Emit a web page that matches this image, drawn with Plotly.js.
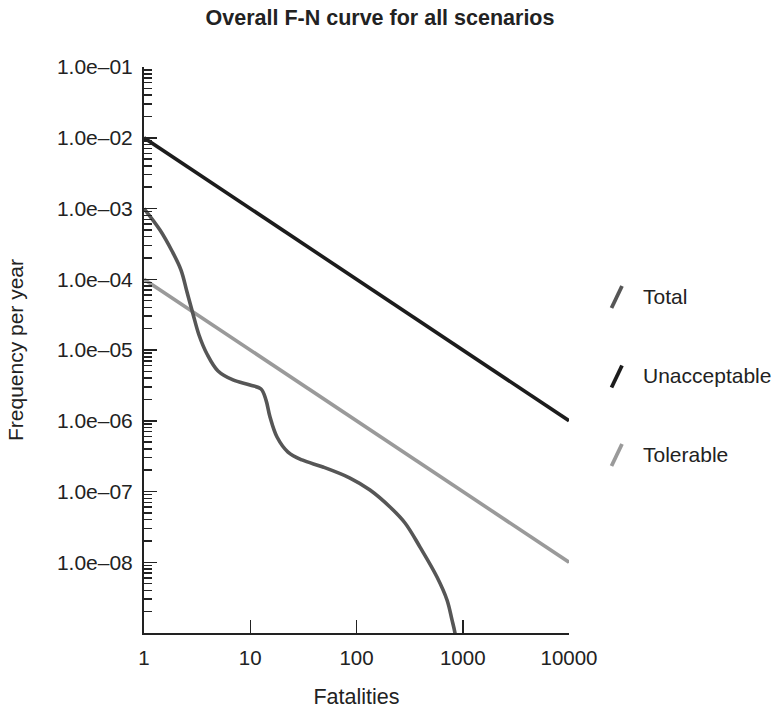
<!DOCTYPE html>
<html>
<head>
<meta charset="utf-8">
<script src="https://cdn.plot.ly/plotly-3.0.1.min.js"></script>
<style>
  html, body { margin: 0; padding: 0; background: #ffffff; }
  #chart { width: 774px; height: 709px; }
</style>
</head>
<body>
<div id="chart"></div>
<script>
// F-N curve: cumulative frequency of N or more fatalities per year
const seriesNames = ["Total", "Unacceptable", "Tolerable"];

// Total curve for all scenarios
const totalN = [1, 1.414, 1.834, 2.23, 2.54, 2.892, 3.293, 3.916, 4.972, 6.88, 9.95, 12.63,
                14.07, 15.35, 17.86, 22.66, 30.69, 48.39, 86.86, 134.0, 206.7, 286.1, 396.0,
                572.3, 711.0, 792.1, 845.4, 902];
const totalF = [1e-3, 4.97e-4, 2.51e-4, 1.35e-4, 6.6e-5, 3.23e-5, 1.63e-5, 8.78e-6, 5.05e-6,
                3.77e-6, 3.2e-6, 2.81e-6, 1.96e-6, 1.13e-6, 5.89e-7, 3.61e-7, 2.79e-7, 2.22e-7,
                1.55e-7, 1.05e-7, 6.04e-8, 3.59e-8, 1.64e-8, 6.19e-9, 2.93e-9, 1.53e-9,
                1.0e-9, 5.05e-10];

// Criterion lines
const criterionN = [1, 10000];
const unacceptableF = [1e-2, 1e-6];
const tolerableF = [1e-4, 1e-8];

// Axis ticks
const xTickVals = [1, 10, 100, 1000, 10000];
const xTickText = ["1", "10", "100", "1000", "10000"];
const yTickVals = [1e-8, 1e-7, 1e-6, 1e-5, 1e-4, 1e-3, 1e-2, 1e-1];
const yTickText = ["1.0e\u201308", "1.0e\u201307", "1.0e\u201306", "1.0e\u201305",
                   "1.0e\u201304", "1.0e\u201303", "1.0e\u201302", "1.0e\u201301"];

const colors = { Total: "#565656", Unacceptable: "#1c1c1c", Tolerable: "#9a9a9a" };
const FONT = "Liberation Sans, Arial, Helvetica, sans-serif";
const INK = "#222222";

const traces = [
  { x: criterionN, y: tolerableF, name: "Tolerable", mode: "lines",
    line: { color: colors.Tolerable, width: 3.6 }, showlegend: false, hoverinfo: "x+y+name" },
  { x: totalN, y: totalF, name: "Total", mode: "lines",
    line: { color: colors.Total, width: 3.6, shape: "spline", smoothing: 1 },
    showlegend: false, hoverinfo: "x+y+name" },
  { x: criterionN, y: unacceptableF, name: "Unacceptable", mode: "lines",
    line: { color: colors.Unacceptable, width: 3.6 }, showlegend: false, hoverinfo: "x+y+name" }
];

// Key on the right: slanted stroke + label per series (paper coordinates)
const plotL = 144, plotR = 569, plotT = 67, plotB = 633;
const px = v => (v - plotL) / (plotR - plotL);
const py = v => (plotB - v) / (plotB - plotT);
const keyRows = [297, 376.5, 455];
const shapes = [];
const annotations = [];
seriesNames.forEach((nm, i) => {
  const yc = keyRows[i];
  shapes.push({
    type: "line", xref: "paper", yref: "paper",
    x0: px(611.5), y0: py(yc + 11), x1: px(622), y1: py(yc - 11),
    line: { color: colors[nm], width: 3.8 }
  });
  annotations.push({
    xref: "paper", yref: "paper", x: px(641), y: py(yc - 1),
    xanchor: "left", yanchor: "middle", showarrow: false, text: nm,
    font: { family: FONT, size: 21, color: INK }
  });
});

const layout = {
  width: 774, height: 709,
  margin: { l: plotL, r: 774 - plotR, t: plotT, b: 709 - plotB, pad: 0 },
  paper_bgcolor: "#ffffff", plot_bgcolor: "#ffffff",
  font: { family: FONT, size: 20, color: INK },
  title: {
    text: "<b>Overall F-N curve for all scenarios</b>",
    font: { family: FONT, size: 21.5, color: INK },
    xref: "container", x: 380 / 774, xanchor: "center",
    yref: "container", y: 1 - 17.5 / 709, yanchor: "middle"
  },
  xaxis: {
    type: "log", range: [0, 4],
    tickmode: "array", tickvals: xTickVals, ticktext: xTickText,
    ticks: "inside", ticklen: 13, tickwidth: 1.5, tickcolor: INK,
    ticklabelstandoff: 5,
    showline: true, linecolor: INK, linewidth: 2,
    showgrid: false, zeroline: false,
    tickfont: { family: FONT, size: 20.5, color: INK },
    title: { text: "Fatalities", font: { family: FONT, size: 21.5, color: INK }, standoff: 24 }
  },
  yaxis: {
    type: "log", range: [-9, -1],
    tickmode: "array", tickvals: yTickVals, ticktext: yTickText,
    ticks: "inside", ticklen: 13, tickwidth: 1.5, tickcolor: INK,
    ticklabelstandoff: 5,
    minor: { ticks: "inside", ticklen: 8, tickwidth: 1.5, tickcolor: INK, dtick: "D1", showgrid: false },
    showline: true, linecolor: INK, linewidth: 2,
    showgrid: false, zeroline: false,
    tickfont: { family: FONT, size: 21, color: INK },
    title: { text: "Frequency per year", font: { family: FONT, size: 21, color: INK }, standoff: 28 }
  },
  shapes: shapes,
  annotations: annotations,
  showlegend: false
};

Plotly.newPlot("chart", traces, layout, { displayModeBar: false, staticPlot: true });
</script>
</body>
</html>
